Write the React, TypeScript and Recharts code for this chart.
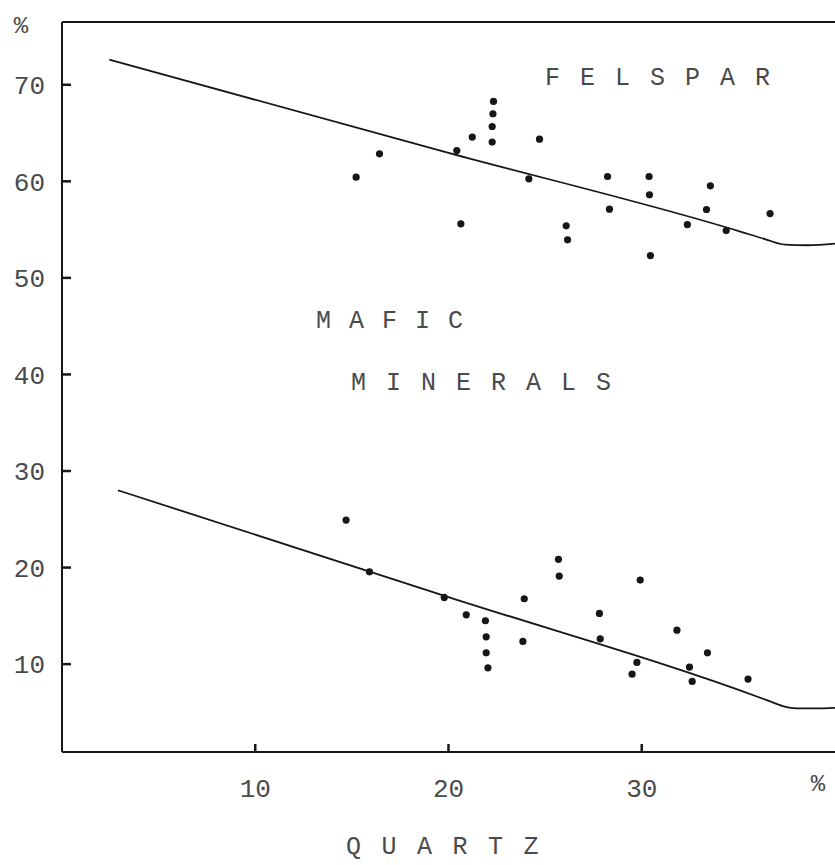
import React from "react";
import { ComposedChart, Line, Scatter, XAxis, YAxis, ReferenceLine } from "recharts";

// Axis ticks
const xTicks = [10, 20, 30];
const yTicks = [10, 20, 30, 40, 50, 60, 70];
const xDomain = [0, 40];
const yDomain = [0.9, 76.5];

// Upper boundary line (Felspar / Mafic minerals)
const upperLineX = [2.45, 20.0, 35.1, 36.4, 37.4, 38.6, 40.0];
const upperLineY = [72.6, 62.95, 54.8, 54.0, 53.45, 53.38, 53.55];

// Lower boundary line (Mafic minerals / Quartz)
const lowerLineX = [2.9, 20.0, 36.5, 37.3, 38.0, 39.0, 40.0];
const lowerLineY = [28.0, 16.95, 6.25, 5.65, 5.42, 5.42, 5.48];

// Upper point cloud
const upperX = [22.33, 22.30, 22.26, 22.26, 21.23, 20.43, 16.43, 15.22, 24.71, 24.16, 20.64, 26.09, 26.16, 28.23, 28.33, 30.38, 30.40, 30.45, 33.55, 33.35, 32.36, 34.37, 36.64];
const upperY = [68.27, 67.0, 65.68, 64.06, 64.58, 63.19, 62.85, 60.43, 64.37, 60.26, 55.6, 55.39, 53.94, 60.5, 57.12, 60.5, 58.6, 52.31, 59.53, 57.08, 55.52, 54.9, 56.66];

// Lower point cloud
const lowerX = [14.70, 15.91, 19.78, 20.92, 21.91, 21.95, 21.95, 22.04, 23.85, 23.92, 25.69, 25.73, 29.92, 27.81, 27.85, 29.75, 29.50, 31.82, 33.40, 32.47, 32.61, 35.50];
const lowerY = [24.92, 19.56, 16.91, 15.11, 14.49, 12.83, 11.17, 9.62, 12.35, 16.77, 20.85, 19.12, 18.70, 15.25, 12.62, 10.18, 8.96, 13.52, 11.17, 9.69, 8.21, 8.45];

const zip = (xs: number[], ys: number[]) => xs.map((x, i) => ({ x, y: ys[i] }));
const upperLine = zip(upperLineX, upperLineY);
const lowerLine = zip(lowerLineX, lowerLineY);
const points = [...zip(upperX, upperY), ...zip(lowerX, lowerY)];

const INK = "#161616";
const TXT = "#4a4a4a";
const FONT = "'Liberation Mono', 'DejaVu Sans Mono', monospace";

const YTick = (props: any) => {
  const { x, y, payload } = props;
  return (
    <g>
      <text x={x} y={y} dy="0.36em" textAnchor="end" fontFamily={FONT} fontSize={26} fill={TXT}>
        {payload.value}
      </text>
      <line x1={x + 17} x2={x + 26} y1={y} y2={y} stroke={INK} strokeWidth={2.5} />
    </g>
  );
};

const XTick = (props: any) => {
  const { x, y, payload } = props;
  return (
    <g>
      <text x={x} y={y + 10} dy="0.36em" textAnchor="middle" fontFamily={FONT} fontSize={26} fill={TXT}>
        {payload.value}
      </text>
      <line x1={x} x2={x} y1={y - 26} y2={y - 34} stroke={INK} strokeWidth={2.5} />
    </g>
  );
};

const Dot = (props: any) => <circle cx={props.cx} cy={props.cy} r={3.6} fill={INK} />;

const labelStyle = { fontFamily: FONT, fontSize: 25, fill: TXT } as const;

export default function App() {
  return (
    <div style={{ position: "absolute", left: 0, top: 0, width: 835, height: 865, background: "#ffffff" }}>
      <ComposedChart width={835} height={865} margin={{ top: 22, right: 0, bottom: 0, left: 0 }}>
        <XAxis
          type="number"
          dataKey="x"
          domain={xDomain}
          ticks={xTicks}
          allowDataOverflow
          height={113}
          tickSize={0}
          tickMargin={26}
          tickLine={false}
          tick={<XTick />}
          axisLine={{ stroke: INK, strokeWidth: 2 }}
        />
        <YAxis
          type="number"
          dataKey="y"
          domain={yDomain}
          ticks={yTicks}
          allowDataOverflow
          width={62}
          tickSize={0}
          tickMargin={17}
          tickLine={false}
          tick={<YTick />}
          axisLine={{ stroke: INK, strokeWidth: 2 }}
        />
        <ReferenceLine y={yDomain[1]} stroke={INK} strokeWidth={2} />
        <Line data={upperLine} dataKey="y" type="monotone" stroke={INK} strokeWidth={1.8} dot={false} isAnimationActive={false} />
        <Line data={lowerLine} dataKey="y" type="monotone" stroke={INK} strokeWidth={1.8} dot={false} isAnimationActive={false} />
        <Scatter data={points} shape={<Dot />} isAnimationActive={false} />
      </ComposedChart>
      <svg width={835} height={865} style={{ position: "absolute", left: 0, top: 0, pointerEvents: "none" }}>
        <text x={21} y={24} dy="0.36em" textAnchor="middle" {...labelStyle} fontSize={24}>%</text>
        <text x={818} y={782} dy="0.36em" textAnchor="middle" {...labelStyle} fontSize={24}>%</text>
        <text x={545} y={76} dy="0.36em" {...labelStyle} letterSpacing={20}>FELSPAR</text>
        <text x={316} y={319} dy="0.36em" {...labelStyle} letterSpacing={18}>MAFIC</text>
        <text x={351} y={381} dy="0.36em" {...labelStyle} letterSpacing={20}>MINERALS</text>
        <text x={346} y={845} dy="0.36em" {...labelStyle} letterSpacing={20.5}>QUARTZ</text>
      </svg>
    </div>
  );
}
